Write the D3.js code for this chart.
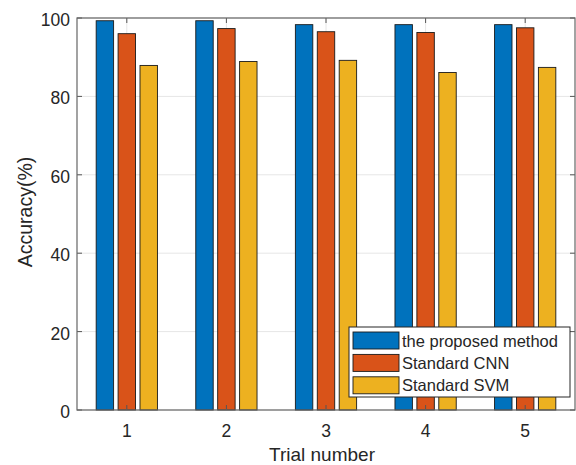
<!doctype html>
<html>
<head>
<meta charset="utf-8">
<script src="https://cdn.jsdelivr.net/npm/d3@7"></script>
<style>
  body { margin: 0; background: #fff; }
  text { font-family: "Liberation Sans", Arial, sans-serif; fill: #262626; }
</style>
</head>
<body>
<svg id="chart" width="576" height="465"></svg>
<script>
// trial numbers on the x axis
const trials = [1, 2, 3, 4, 5];
const seriesNames = ["the proposed method", "Standard CNN", "Standard SVM"];
// accuracy (%) per trial
const proposed = [99.3, 99.3, 98.3, 98.3, 98.3];
const cnn = [96.0, 97.3, 96.5, 96.3, 97.5];
const svm = [87.9, 88.9, 89.2, 86.1, 87.4];
const yTicks = [0, 20, 40, 60, 80, 100];
const colors = ["#0072BD", "#D95319", "#EDB120"];

const series = [proposed, cnn, svm];

const svg = d3.select("#chart");
const m = {left: 77, right: 575, top: 18, bottom: 410};

const x = d3.scaleLinear().domain([0.5, 5.5]).range([m.left, m.right]);
const y = d3.scaleLinear().domain([0, 100]).range([m.bottom, m.top]);

// grid lines
const grid = svg.append("g");
grid.selectAll(".gy").data(yTicks).enter().append("line")
  .attr("x1", m.left).attr("x2", m.right)
  .attr("y1", d => y(d)).attr("y2", d => y(d))
  .attr("stroke", "#e6e6e6").attr("stroke-width", 1);
grid.selectAll(".gx").data(trials).enter().append("line")
  .attr("x1", d => x(d)).attr("x2", d => x(d))
  .attr("y1", m.top).attr("y2", m.bottom)
  .attr("stroke", "#e6e6e6").attr("stroke-width", 1);

// bars
const bw = 0.175;      // bar width in x units
const step = 0.22;     // offset between bars in a group
series.forEach((vals, s) => {
  svg.append("g").selectAll("rect").data(vals).enter().append("rect")
    .attr("x", (d, i) => x(trials[i] + (s - 1) * step - bw / 2))
    .attr("width", x(bw) - x(0))
    .attr("y", d => y(d))
    .attr("height", d => y(0) - y(d))
    .attr("fill", colors[s])
    .attr("stroke", "#1a1a1a")
    .attr("stroke-width", 0.9);
});

// axes box with inward ticks
const ax = svg.append("g");
const tickLen = 5;
ax.selectAll(".tb").data(trials).enter().append("line")
  .attr("x1", d => x(d)).attr("x2", d => x(d))
  .attr("y1", m.bottom).attr("y2", m.bottom - tickLen)
  .attr("stroke", "#555");
ax.selectAll(".tt").data(trials).enter().append("line")
  .attr("x1", d => x(d)).attr("x2", d => x(d))
  .attr("y1", m.top).attr("y2", m.top + tickLen)
  .attr("stroke", "#555");
ax.selectAll(".tl").data(yTicks).enter().append("line")
  .attr("x1", m.left).attr("x2", m.left + tickLen)
  .attr("y1", d => y(d)).attr("y2", d => y(d))
  .attr("stroke", "#555");
ax.selectAll(".tr").data(yTicks).enter().append("line")
  .attr("x1", m.right).attr("x2", m.right - tickLen)
  .attr("y1", d => y(d)).attr("y2", d => y(d))
  .attr("stroke", "#555");
ax.append("rect")
  .attr("x", m.left).attr("y", m.top)
  .attr("width", m.right - m.left).attr("height", m.bottom - m.top)
  .attr("fill", "none").attr("stroke", "#666").attr("stroke-width", 1.2);

// tick labels
svg.append("g").selectAll("text").data(yTicks).enter().append("text")
  .attr("x", m.left - 7).attr("y", d => y(d) + 8)
  .attr("text-anchor", "end").attr("font-size", 17.5)
  .text(d => d);
svg.append("g").selectAll("text").data(trials).enter().append("text")
  .attr("x", d => x(d)).attr("y", m.bottom + 27)
  .attr("text-anchor", "middle").attr("font-size", 17.5)
  .text(d => d);

// axis titles
svg.append("text")
  .attr("x", x(3) - 4).attr("y", 461)
  .attr("text-anchor", "middle").attr("font-size", 19)
  .text("Trial number");
svg.append("text")
  .attr("transform", `translate(32,${(m.top + m.bottom) / 2 - 2}) rotate(-90)`)
  .attr("text-anchor", "middle").attr("font-size", 19.5)
  .text("Accuracy(%)");

// legend
const lg = svg.append("g").attr("transform", "translate(349,327)");
lg.append("rect")
  .attr("width", 221).attr("height", 70)
  .attr("fill", "#fff").attr("stroke", "#262626").attr("stroke-width", 1);
seriesNames.forEach((name, i) => {
  lg.append("rect")
    .attr("x", 4).attr("y", 5 + i * 22.4)
    .attr("width", 46).attr("height", 17)
    .attr("fill", colors[i]).attr("stroke", "#1a1a1a").attr("stroke-width", 0.9);
  lg.append("text")
    .attr("x", 53).attr("y", 19.5 + i * 22.4)
    .attr("font-size", 16.5)
    .text(name);
});
</script>
</body>
</html>
